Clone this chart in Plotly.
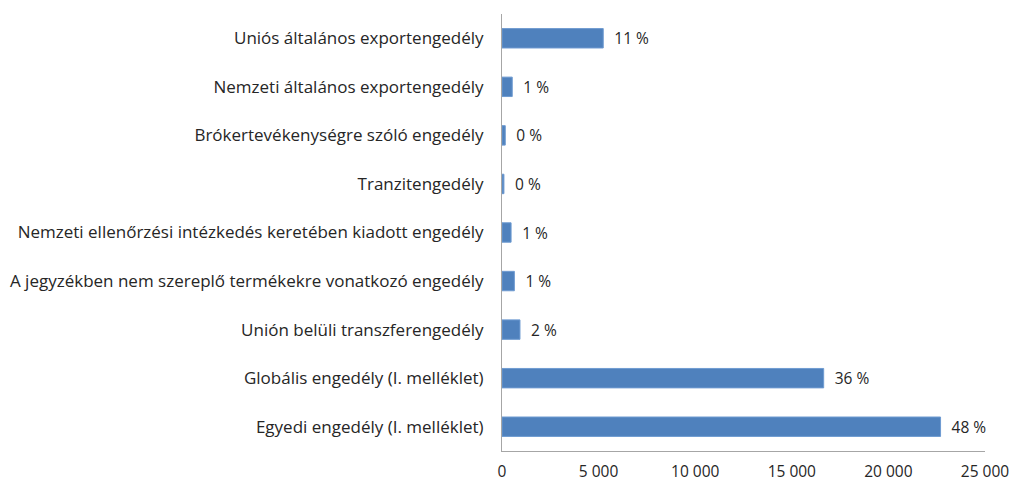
import plotly.graph_objects as go

categories = [
    "Egyedi engedély (I. melléklet)",
    "Globális engedély (I. melléklet)",
    "Unión belüli transzferengedély",
    "A jegyzékben nem szereplő termékekre vonatkozó engedély",
    "Nemzeti ellenőrzési intézkedés keretében kiadott engedély",
    "Tranzitengedély",
    "Brókertevékenységre szóló engedély",
    "Nemzeti általános exportengedély",
    "Uniós általános exportengedély",
]
values = [22700, 16650, 930, 640, 470, 100, 170, 530, 5240]
pct_labels = ["48 %", "36 %", "2 %", "1 %", "1 %", "0 %", "0 %", "1 %", "11 %"]
x_ticks = [0, 5000, 10000, 15000, 20000, 25000]
x_tick_labels = ["0", "5 000", "10 000", "15 000", "20 000", "25 000"]

fig = go.Figure(go.Bar(
    y=categories, x=values, orientation="h",
    marker=dict(color="#4F81BD", line=dict(color="#6F9BD1", width=1)),
    text=["  " + t for t in pct_labels], textposition="outside",
    textfont=dict(size=15.5, color="#262626", family="Open Sans"),
    constraintext="none",
    cliponaxis=False, width=0.4,
))
fig.update_layout(
    width=1020, height=478,
    margin=dict(l=494, r=43, t=6, b=35),
    paper_bgcolor="white", plot_bgcolor="white",
    font=dict(family="Open Sans", size=15, color="#262626"),
    showlegend=False,
    xaxis=dict(range=[0, 25000], tickvals=x_ticks, ticktext=x_tick_labels,
               showgrid=False, zeroline=False, showline=True, linecolor="#A6A6A6",
               linewidth=1, ticks="", ticklen=0, automargin=False,
               ticklabelstandoff=6, tickfont=dict(size=15.5)),
    yaxis=dict(showgrid=False, zeroline=False, showline=True, linecolor="#A6A6A6",
               linewidth=1, ticks="", ticklabelstandoff=14, automargin=False,
               tickfont=dict(size=17),
               range=[-0.5, 8.5]),
)
fig.write_html("out.html")
